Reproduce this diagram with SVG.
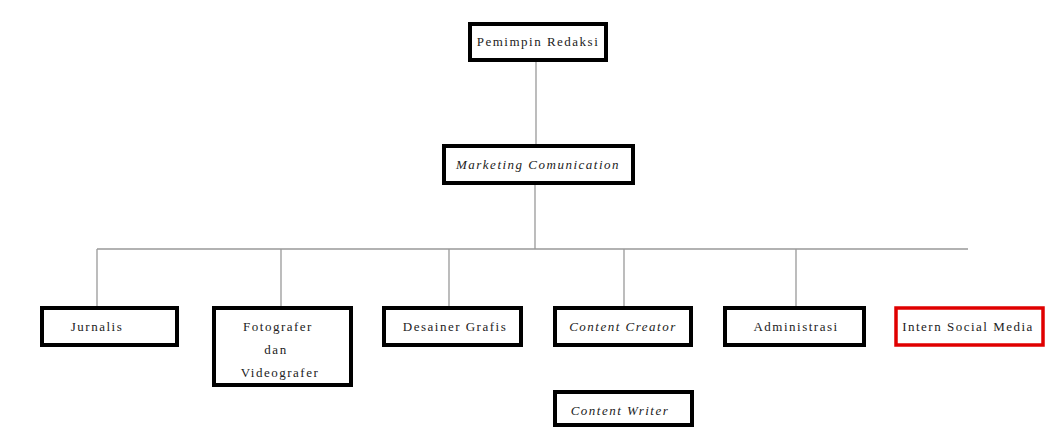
<svg xmlns="http://www.w3.org/2000/svg" width="1050" height="430" viewBox="0 0 1050 430">
<style>
.box{fill:#fff;stroke:#000;stroke-width:4}
.red{fill:#fff;stroke:#e00000;stroke-width:3.5}
.t{font-family:"Liberation Serif","Times New Roman",serif;font-size:13px;letter-spacing:1.5px;fill:#222;text-anchor:middle}
.i{font-style:italic}
.c{stroke:#999;stroke-width:1.3;fill:none}
</style>
<rect width="1050" height="430" fill="#fff"/>
<g id="connectors">
<line class="c" x1="536" y1="62" x2="536" y2="144"/>
<line class="c" x1="535" y1="185" x2="535" y2="249"/>
<line class="c" x1="97" y1="249" x2="968" y2="249"/>
<line class="c" x1="97" y1="249" x2="97" y2="306"/>
<line class="c" x1="281" y1="249" x2="281" y2="306"/>
<line class="c" x1="449" y1="249" x2="449" y2="306"/>
<line class="c" x1="624" y1="249" x2="624" y2="306"/>
<line class="c" x1="796" y1="249" x2="796" y2="306"/>
</g>
<g id="pemimpin">
<rect class="box" x="470" y="24" width="136" height="36"/>
<text class="t" x="538" y="46">Pemimpin Redaksi</text>
</g>
<g id="marketing">
<rect class="box" x="444" y="146" width="189" height="37"/>
<text class="t i" x="538" y="169">Marketing Comunication</text>
</g>
<g id="jurnalis">
<rect class="box" x="42" y="308" width="135" height="37"/>
<text class="t" x="97" y="331">Jurnalis</text>
</g>
<g id="fotografer">
<rect class="box" x="214" y="308" width="137" height="77"/>
<text class="t" x="278" y="331">Fotografer</text>
<text class="t" x="276" y="354">dan</text>
<text class="t" x="280" y="377">Videografer</text>
</g>
<g id="desainer">
<rect class="box" x="384" y="308" width="137" height="37"/>
<text class="t" x="455" y="331">Desainer Grafis</text>
</g>
<g id="content-creator">
<rect class="box" x="555" y="308" width="136" height="37"/>
<text class="t i" x="623" y="331">Content Creator</text>
</g>
<g id="content-writer">
<rect class="box" x="555" y="392" width="137" height="33"/>
<text class="t i" x="620" y="415">Content Writer</text>
</g>
<g id="administrasi">
<rect class="box" x="725" y="308" width="139" height="37"/>
<text class="t" x="796" y="331">Administrasi</text>
</g>
<g id="intern">
<rect class="red" x="896" y="308" width="147" height="37"/>
<text class="t" x="968" y="331">Intern Social Media</text>
</g>
</svg>
